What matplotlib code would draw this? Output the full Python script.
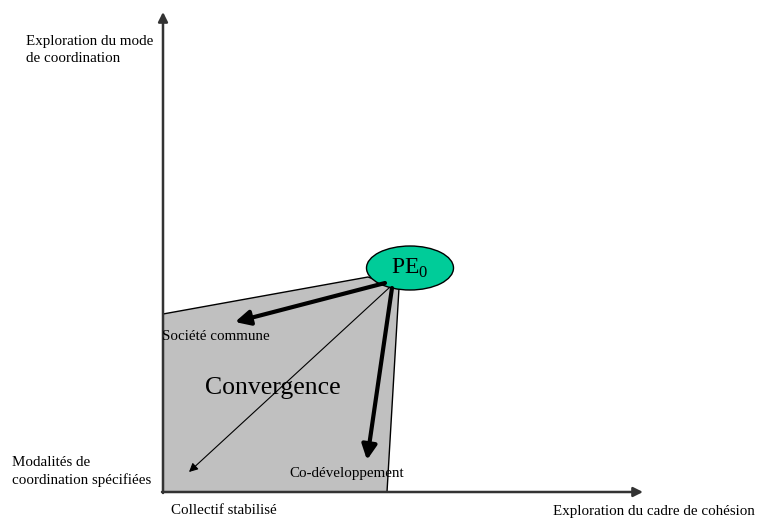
import matplotlib.pyplot as plt
from matplotlib.patches import Polygon, Ellipse

plt.rcParams['font.family'] = ['Liberation Serif', 'DejaVu Serif']

# diagram geometry, in picture pixels (y grows downward)
origin = (163, 492)
y_axis_top = 12
x_axis_end = 643
zone = [(163, 314), (368, 277), (399, 288), (387, 492), (163, 492)]
pe_centre = (410, 268)
pe_size = (87, 44)
arrows = [
    # start, end, width
    ((385, 283), (235, 322), 3.0),
    ((392, 288), (367, 460), 3.0),
    ((390, 287), (189, 472), 0.8),
]
labels = [
    ("Exploration du mode\nde coordination", 26, 50, 'left'),
    ("Modalités de\ncoordination spécifiées", 12, 471.5, 'left'),
    ("Collectif stabilisé", 224, 511, 'center'),
    ("Exploration du cadre de cohésion", 654, 511, 'center'),
    ("Société commune", 162, 336, 'left'),
    ("Co-développement", 289, 474, 'left'),
]

fig = plt.figure(figsize=(7.65, 5.19), dpi=100)
ax = fig.add_axes([0, 0, 1, 1])
ax.set_xlim(0, 765)
ax.set_ylim(519, 0)
ax.axis('off')

ax.add_patch(Polygon(zone, closed=True, facecolor='#c0c0c0', edgecolor='black', lw=1))

# axes
ax.annotate('', xy=(origin[0], y_axis_top), xytext=(origin[0], origin[1] + 1),
            arrowprops=dict(arrowstyle='-|>', color='#333333', lw=1.8,
                            mutation_scale=14, shrinkA=0, shrinkB=0))
ax.annotate('', xy=(x_axis_end, origin[1]), xytext=(origin[0] - 1, origin[1]),
            arrowprops=dict(arrowstyle='-|>', color='#333333', lw=1.8,
                            mutation_scale=14, shrinkA=0, shrinkB=0))

for start, end, w in arrows:
    ms = 22 if w > 2 else 13
    ax.annotate('', xy=end, xytext=start,
                arrowprops=dict(arrowstyle='-|>', color='black', lw=w,
                                mutation_scale=ms, shrinkA=0, shrinkB=0), zorder=4)

ax.add_patch(Ellipse(pe_centre, pe_size[0], pe_size[1], facecolor='#00cc99',
                     edgecolor='black', lw=1, zorder=3))
ax.text(pe_centre[0], pe_centre[1], r'PE$_\mathregular{0}$', fontsize=17,
        ha='center', va='center', zorder=5)

ax.text(273, 388, 'Convergence', fontsize=18.5, ha='center', va='center', zorder=5)

for txt, x, y, ha in labels:
    ax.text(x, y, txt, fontsize=10.8, ha=ha, va='center', linespacing=1.4, zorder=5)

fig.savefig('out.png', dpi=100)
